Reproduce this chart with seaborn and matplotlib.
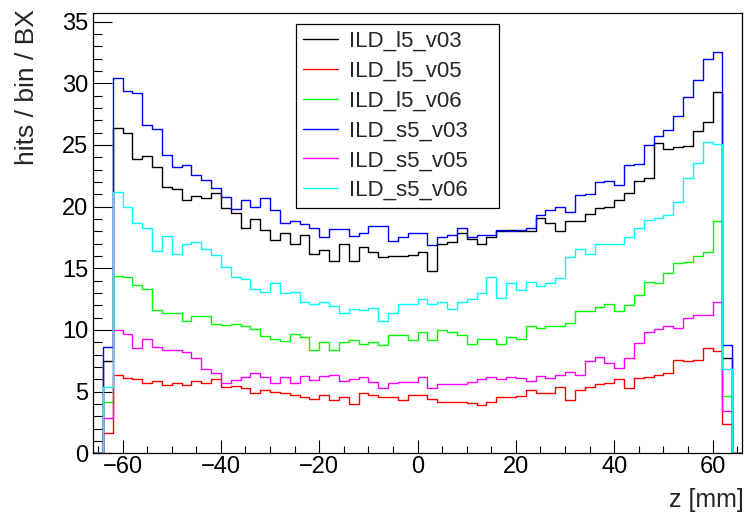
import numpy as np
import pandas as pd
import matplotlib
matplotlib.use("Agg")
import matplotlib.pyplot as plt
from matplotlib.ticker import MultipleLocator
import seaborn as sns

# ---- data ----
z_edges = list(range(-66, 67, 2))          # bin edges [mm], 66 bins of 2 mm
series_names = ["ILD_l5_v03", "ILD_l5_v05", "ILD_l5_v06",
                "ILD_s5_v03", "ILD_s5_v05", "ILD_s5_v06"]
series_colors = ["#000000", "#ff0000", "#00ff00", "#0000ff", "#ff00ff", "#00ffff"]

ild_l5_v03 = [0, 7.5,
              26.4, 26.0, 23.9, 24.1, 23.2, 21.6, 21.4, 20.5, 20.9, 20.7,
              21.1, 19.9, 19.5, 18.3, 19.0, 18.1, 17.3, 17.9, 16.95, 17.7,
              16.2, 16.5, 15.6, 17.0, 15.6, 16.75, 16.35, 15.9, 16.0, 16.0,
              16.1, 16.3, 14.8, 17.0, 17.15, 17.85, 17.35, 17.0, 17.5, 18.05, 18.1,
              18.05, 18.05, 19.05, 18.65, 18.05, 18.8, 18.8, 19.4, 19.9, 20.0,
              20.55, 21.1, 22.1, 22.3, 25.15, 24.7, 24.85, 24.9, 26.1, 26.9, 29.3,
              7.7, 0]
ild_l5_v05 = [0, 1.65,
              6.35, 6.1, 6.0, 5.7, 5.9, 5.55, 5.7, 5.5, 5.9, 5.7,
              6.0, 5.35, 5.45, 5.3, 4.9, 5.1, 5.0, 4.85, 4.7, 4.6,
              4.4, 4.7, 4.3, 4.55, 4.0, 4.9, 4.7, 4.55, 4.55, 4.3,
              4.7, 4.7, 4.4, 4.2, 4.2, 4.2, 4.1, 3.9, 4.2, 4.55, 4.55,
              4.65, 5.1, 4.9, 4.9, 5.4, 4.3, 5.1, 5.4, 5.6, 5.7,
              6.0, 5.3, 6.1, 6.2, 6.35, 6.5, 7.6, 7.5, 7.6, 8.5, 8.3,
              2.35, 0]
ild_l5_v06 = [0, 4.15,
              14.4, 14.3, 13.65, 13.3, 11.6, 11.35, 11.35, 10.75, 11.1, 11.1,
              10.5, 10.4, 10.5, 10.3, 10.1, 9.5, 9.3, 9.1, 9.7, 9.45,
              8.4, 9.05, 8.4, 9.05, 9.2, 8.9, 9.05, 8.8, 9.6, 9.6,
              9.2, 9.85, 9.2, 10.0, 9.8, 9.6, 8.9, 9.3, 9.3, 8.9, 9.4,
              9.3, 10.3, 10.2, 10.3, 10.3, 10.55, 11.55, 11.5, 11.9, 12.1,
              11.5, 12.0, 12.85, 13.9, 13.8, 14.65, 15.4, 15.55, 16.0, 16.35, 18.8,
              4.65, 0]
ild_s5_v03 = [0, 8.65,
              30.4, 29.4, 29.2, 26.6, 26.3, 24.2, 23.2, 23.4, 22.6, 22.2,
              21.5, 20.8, 19.8, 20.5, 20.0, 20.7, 19.7, 18.7, 18.8, 18.6,
              18.25, 17.5, 18.2, 18.2, 17.6, 17.85, 18.4, 18.4, 17.25, 17.5,
              17.85, 17.85, 16.9, 17.5, 17.7, 18.25, 17.5, 17.7, 17.7, 18.1, 18.0,
              18.1, 18.25, 19.3, 19.7, 20.0, 19.6, 20.95, 21.0, 22.0, 22.1,
              21.75, 23.4, 23.45, 25.0, 25.7, 26.2, 27.35, 28.85, 30.3, 32.0, 32.5,
              8.8, 0]
ild_s5_v05 = [0, 2.87,
              10.0, 9.7, 8.5, 9.3, 8.65, 8.4, 8.4, 8.25, 7.7, 6.8,
              6.55, 5.7, 5.95, 6.2, 6.55, 6.2, 5.7, 6.2, 5.7, 6.3,
              5.95, 6.3, 6.35, 5.9, 6.0, 6.2, 5.8, 5.3, 5.7, 5.8,
              5.8, 6.15, 5.3, 5.6, 5.6, 5.6, 5.8, 6.0, 6.15, 6.0, 6.15,
              6.1, 5.9, 6.3, 6.1, 6.35, 6.6, 6.35, 7.5, 7.8, 7.3,
              6.95, 7.7, 8.95, 9.8, 10.05, 10.3, 10.15, 10.95, 11.2, 11.2, 12.3,
              3.45, 0]
ild_s5_v06 = [0, 5.4,
              21.2, 19.95, 18.7, 18.3, 16.4, 17.6, 16.2, 16.95, 17.1, 16.6,
              16.1, 15.1, 14.3, 14.1, 13.3, 13.1, 13.8, 13.0, 13.05, 12.3,
              12.1, 12.3, 11.95, 11.4, 11.7, 11.6, 11.75, 10.7, 11.35, 12.1,
              12.1, 12.5, 12.1, 12.3, 11.7, 12.3, 12.5, 13.0, 14.3, 12.6, 13.8,
              13.25, 13.85, 13.55, 13.8, 14.2, 15.95, 16.6, 16.15, 17.0, 17.0,
              16.95, 17.5, 18.25, 18.9, 19.05, 19.3, 20.4, 22.3, 23.5, 25.25, 25.1,
              6.8, 0]

series_values = [ild_l5_v03, ild_l5_v05, ild_l5_v06, ild_s5_v03, ild_s5_v05, ild_s5_v06]

x_label = "z [mm]"
y_label = "hits / bin / BX"

# ---- build long table ----
edges = np.array(z_edges, dtype=float)
centers = 0.5 * (edges[:-1] + edges[1:])
frames = []
for name, vals in zip(series_names, series_values):
    frames.append(pd.DataFrame({"z": centers, "w": vals, "series": name}))
df = pd.concat(frames, ignore_index=True)

# ---- style ----
sns.set_style("ticks")
plt.rcParams['font.family'] = ['Liberation Sans', 'DejaVu Sans']

W, H = 752, 513
fig = plt.figure(figsize=(W / 100, H / 100), dpi=100)
ax_l, ax_r, ax_t, ax_b = 93, 742, 13, 453.3
ax = fig.add_axes([ax_l / W, (H - ax_b) / H, (ax_r - ax_l) / W, (ax_b - ax_t) / H])

handles = []
for name, col in zip(series_names, series_colors):
    sub = df[df["series"] == name]
    n_before = len(ax.lines)
    sns.histplot(data=sub, x="z", weights="w", bins=[float(e) for e in z_edges],
                 element="step", fill=False, color=col, linewidth=1.0, ax=ax)
    handles.append(ax.lines[n_before])

ax.set_xlim(-66, 66)
ax.set_ylim(0, 35.7)

ax.xaxis.set_major_locator(MultipleLocator(20))
ax.xaxis.set_minor_locator(MultipleLocator(5))
ax.yaxis.set_major_locator(MultipleLocator(5))
ax.yaxis.set_minor_locator(MultipleLocator(1))

for sp in ax.spines.values():
    sp.set_visible(True)
    sp.set_color("black")
    sp.set_linewidth(0.9)

ax.tick_params(which="both", direction="in", top=False, right=False,
               color="black", width=0.8, labelsize=17, labelcolor="black")
ax.tick_params(axis="y", which="major", length=13.5, pad=3.5)
ax.tick_params(axis="y", which="minor", length=6.5)
ax.tick_params(axis="x", which="major", length=9.5, pad=2)
ax.tick_params(axis="x", which="minor", length=5)

ax.set_xlabel(x_label, fontsize=18, loc="right")
ax.set_ylabel(y_label, fontsize=19, loc="top")
ax.xaxis.set_label_coords(1.003, -0.078)
ax.yaxis.set_label_coords(-0.083, 1.008)

leg = ax.legend(handles, series_names, loc="upper left",
                bbox_to_anchor=(296 / W, 1 - 24 / H, (499 - 296) / W, 0),
                bbox_transform=fig.transFigure, mode="expand", borderaxespad=0,
                fancybox=False, edgecolor="black", framealpha=1, fontsize=16,
                handlelength=1.6, handletextpad=0.5, labelspacing=0.4,
                borderpad=0.3)
leg.get_frame().set_linewidth(0.9)
for line in leg.get_lines():
    line.set_linewidth(1.0)

fig.savefig("out.png", dpi=100)
